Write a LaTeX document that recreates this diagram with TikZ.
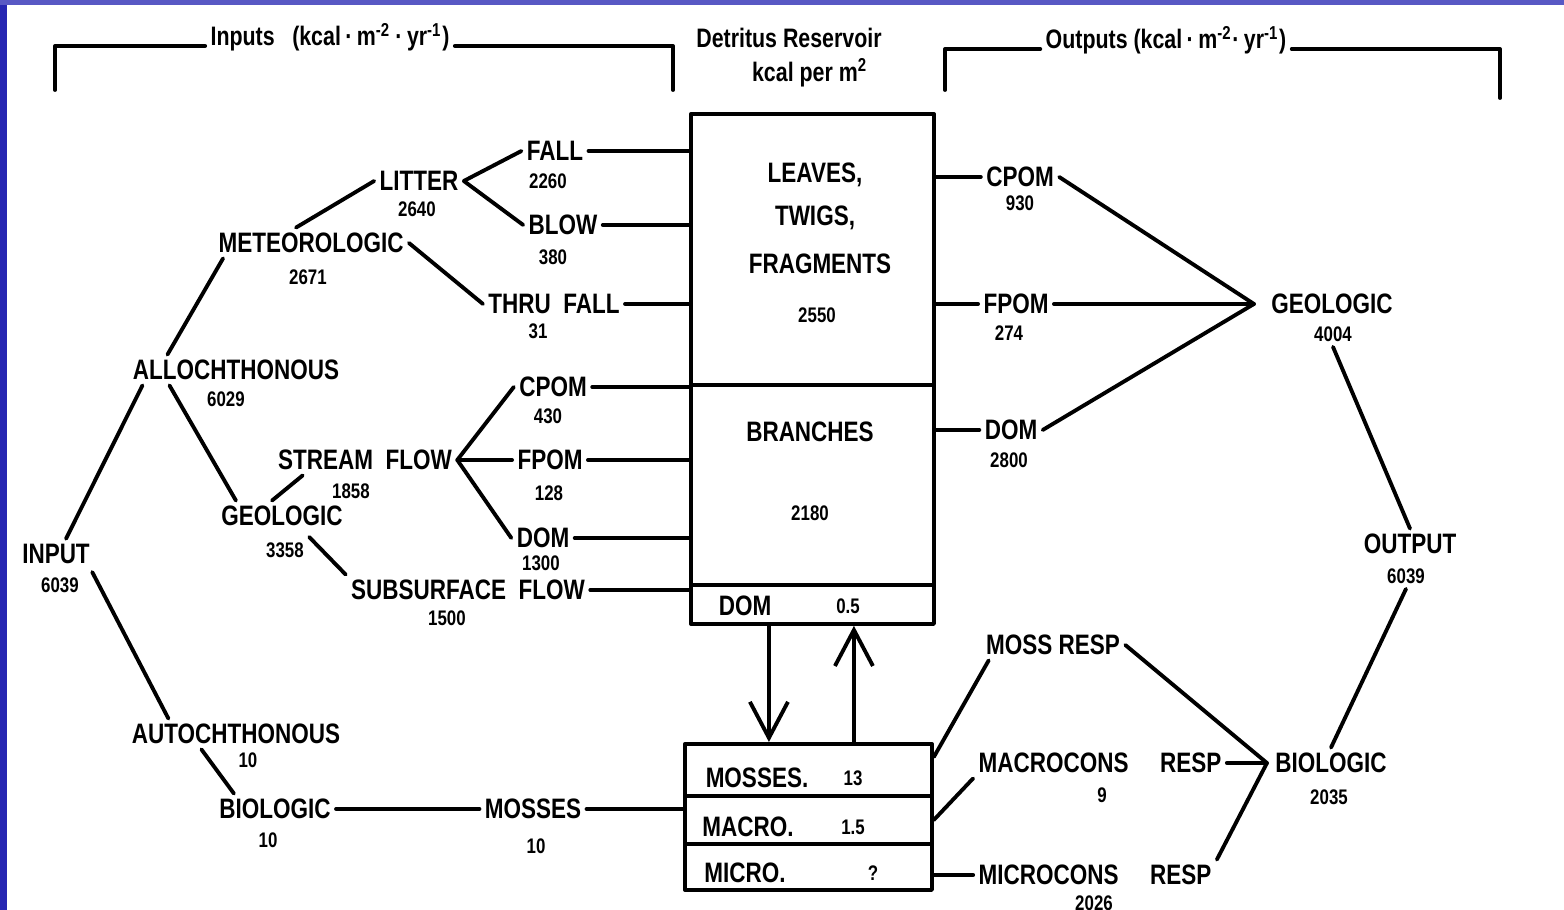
\documentclass[tikz,border=0pt]{standalone}
\usepackage{fontspec}
\setmainfont{Liberation Sans}[FakeStretch=0.8]
\usetikzlibrary{arrows.meta}
\definecolor{slideL}{RGB}{38,38,178}
\definecolor{slideT}{RGB}{88,88,196}
\begin{document}
\begin{tikzpicture}[>={Straight Barb[length=3.6mm,width=3.8mm]},line width=1.1pt,line join=round,line cap=round,
	every node/.style={inner sep=1pt,font=\bfseries},
	lab/.style={font=\fontsize{8}{9}\selectfont\bfseries},
	num/.style={font=\fontsize{6}{7}\selectfont\bfseries},
	head/.style={font=\fontsize{7.6}{9}\selectfont\bfseries,anchor=base},
	box/.style={draw,anchor=north west,inner sep=0pt}]
	\useasboundingbox (0,0) rectangle (15.64,9.10);
	\fill[slideL] (0,0) rectangle (0.07,9.10);
	\fill[slideT] (0,9.05) rectangle (15.64,9.10);
	
	\node[head] (intitle) at (3.30,8.64) {Inputs\hspace{5pt}(kcal\,·\,m\textsuperscript{-2}\,·\,yr\textsuperscript{-1})};
	\node[head] (outtitle) at (11.66,8.61) {Outputs (kcal\,·\,m\textsuperscript{-2}·\,yr\textsuperscript{-1})};
	\node[head,anchor=center] (dettitle) at (7.89,8.72) {Detritus Reservoir};
	\node[head,anchor=center] (detunit) at (8.10,8.37) {kcal per m\textsuperscript{2}};
	\coordinate (inL) at (0.55,8.20);
	\coordinate (inR) at (6.73,8.20);
	\coordinate (outL) at (9.45,8.20);
	\coordinate (outR) at (15.00,8.12);
	\draw (intitle.base west) -| (inL);
	\draw (intitle.base east) -| (inR);
	\draw (outtitle.base west) -| (outL);
	\draw (outtitle.base east) -| (outR);
	
	\node[box,minimum width=2.43cm,minimum height=2.71cm] (leaves) at (6.89,7.98) {};
	\node[box,minimum width=2.43cm,minimum height=2.00cm] (branches) at (6.89,5.27) {};
	\node[box,minimum width=2.43cm,minimum height=0.39cm] (domres) at (6.89,3.27) {};
	\node[box,minimum width=2.47cm,minimum height=0.52cm] (mossbox) at (6.83,1.68) {};
	\node[box,minimum width=2.47cm,minimum height=0.48cm] (macrobox) at (6.83,1.16) {};
	\node[box,minimum width=2.47cm,minimum height=0.46cm] (microbox) at (6.83,0.68) {};
	\node[lab] (tLeaves) at (8.15,7.35) {LEAVES,};
	\node[lab] (tTwigs) at (8.15,6.92) {TWIGS,};
	\node[lab] (tFrag) at (8.20,6.46) {FRAGMENTS};
	\node[num] (nLeaves) at (8.17,5.95) {2550};
	\node[lab] (tBranch) at (8.10,4.78) {BRANCHES};
	\node[num] (nBranch) at (8.10,3.97) {2180};
	\node[lab] (tDom) at (7.45,3.04) {DOM};
	\node[num] (nDom) at (8.48,3.04) {0.5};
	\node[lab] (tMosses) at (7.57,1.32) {MOSSES.};
	\node[num] (nMosses) at (8.53,1.32) {13};
	\node[lab] (tMacro) at (7.48,0.83) {MACRO.};
	\node[num] (nMacro) at (8.53,0.83) {1.5};
	\node[lab] (tMicro) at (7.45,0.37) {MICRO.};
	\node[num] (nMicro) at (8.73,0.37) {?};
	\draw[->] ([xshift=-4.35mm]domres.south) -- ([xshift=-4.35mm]domres.south |- mossbox.north);
	\draw[->] ([xshift=4.15mm]domres.south |- mossbox.north) -- ([xshift=4.15mm]domres.south);
	
	\node[lab] (litter) at (4.19,7.29) {LITTER};
	\node[num] (nLitter) at (4.17,7.01) {2640};
	\node[lab] (fall) at (5.55,7.59) {FALL};
	\node[num] (nFall) at (5.48,7.29) {2260};
	\node[lab] (blow) at (5.63,6.85) {BLOW};
	\node[num] (nBlow) at (5.53,6.53) {380};
	\node[lab] (meteo) at (3.11,6.67) {METEOROLOGIC};
	\node[num] (nMeteo) at (3.08,6.33) {2671};
	\node[lab] (thru) at (5.54,6.06) {THRU\ \ FALL};
	\node[num] (nThru) at (5.38,5.79) {31};
	\node[lab] (alloch) at (2.36,5.40) {ALLOCHTHONOUS};
	\node[num] (nAlloch) at (2.26,5.11) {6029};
	\node[lab] (cpomL) at (5.53,5.23) {CPOM};
	\node[num] (nCpomL) at (5.48,4.94) {430};
	\node[lab] (stream) at (3.65,4.50) {STREAM\ \ FLOW};
	\node[num] (nStream) at (3.51,4.19) {1858};
	\node[lab] (fpomL) at (5.50,4.50) {FPOM};
	\node[num] (nFpomL) at (5.49,4.17) {128};
	\node[lab] (geoL) at (2.82,3.94) {GEOLOGIC};
	\node[num] (nGeoL) at (2.85,3.60) {3358};
	\node[lab] (domL) at (5.43,3.72) {DOM};
	\node[num] (nDomL) at (5.41,3.47) {1300};
	\node[lab] (input) at (0.56,3.56) {INPUT};
	\node[num] (nInput) at (0.60,3.25) {6039};
	\node[lab] (subsurf) at (4.68,3.20) {SUBSURFACE\ \ FLOW};
	\node[num] (nSubsurf) at (4.47,2.92) {1500};
	\node[lab] (autoch) at (2.36,1.76) {AUTOCHTHONOUS};
	\node[num] (nAutoch) at (2.48,1.50) {10};
	\node[lab] (bioL) at (2.75,1.01) {BIOLOGIC};
	\node[num] (nBioL) at (2.68,0.70) {10};
	\node[lab] (mossL) at (5.33,1.01) {MOSSES};
	\node[num] (nMossL) at (5.36,0.64) {10};
	
	\node[lab] (cpomR) at (10.20,7.33) {CPOM};
	\node[num] (nCpomR) at (10.20,7.07) {930};
	\node[lab] (fpomR) at (10.16,6.06) {FPOM};
	\node[num] (nFpomR) at (10.09,5.77) {274};
	\node[lab] (domR) at (10.11,4.80) {DOM};
	\node[num] (nDomR) at (10.09,4.50) {2800};
	\node[lab] (geoR) at (13.32,6.06) {GEOLOGIC};
	\node[num] (nGeoR) at (13.33,5.76) {4004};
	\node[lab] (output) at (14.10,3.66) {OUTPUT};
	\node[num] (nOutput) at (14.06,3.34) {6039};
	\node[lab] (mossresp) at (10.53,2.65) {MOSS RESP};
	\node[lab] (macroresp) at (11.00,1.47) {MACROCONS\hspace{9pt}RESP};
	\node[num] (nMacroresp) at (11.02,1.15) {9};
	\node[lab] (bioR) at (13.31,1.47) {BIOLOGIC};
	\node[num] (nBioR) at (13.29,1.13) {2035};
	\node[lab] (microresp) at (10.95,0.35) {MICROCONS\hspace{9pt}RESP};
	\node[num] (nMicroresp) at (10.94,0.07) {2026};
	
	\coordinate (lv) at (litter.east);
	\coordinate (sv) at (stream.east);
	\coordinate (gv) at ([xshift=-1.2mm]geoR.west);
	\coordinate (bv) at ([xshift=-0.3mm]bioR.west);
	
	\draw ([xshift=-1.5mm]meteo.north) -- (litter.west);
	\draw (lv) -- (fall.west);
	\draw (lv) -- (blow.west);
	\draw (meteo.east) -- (thru.west);
	\draw ([xshift=1mm]meteo.south west) -- ([xshift=4mm]alloch.north west);
	\draw ([xshift=1.5mm]alloch.south west) -- ([xshift=1mm]input.north);
	\draw ([xshift=4.2mm]alloch.south west) -- ([xshift=2mm]geoL.north west);
	\draw ([xshift=-1mm]geoL.north) -- ([xshift=3mm]stream.south west);
	\draw (nGeoL.north east) -- (subsurf.north west);
	\draw (sv) -- (cpomL.west);
	\draw (sv) -- (fpomL.west);
	\draw (sv) -- (domL.west);
	\draw ([xshift=0.8mm]nInput.north east) -- ([xshift=4.2mm]autoch.north west);
	\draw ([xshift=7.5mm]autoch.south west) -- ([xshift=2mm]bioL.north west);
	\draw (bioL.east) -- (mossL.west);
	\draw (mossL.east) -- (mossL.east -| macrobox.west);
	\draw (fall.east) -- (fall.east -| leaves.west);
	\draw (blow.east) -- (blow.east -| leaves.west);
	\draw (thru.east) -- (thru.east -| leaves.west);
	\draw (cpomL.east) -- (cpomL.east -| branches.west);
	\draw (fpomL.east) -- (fpomL.east -| branches.west);
	\draw (domL.east) -- (domL.east -| branches.west);
	\draw (subsurf.east) -- (subsurf.east -| domres.west);
	
	\draw (cpomR.west -| leaves.east) -- (cpomR.west);
	\draw (fpomR.west -| leaves.east) -- (fpomR.west);
	\draw (domR.west -| branches.east) -- (domR.west);
	\draw (cpomR.east) -- (gv);
	\draw (fpomR.east) -- (gv);
	\draw (domR.east) -- (gv);
	\draw (nGeoR.south) -- (output.north);
	\draw (nOutput.south) -- (bioR.north);
	\draw (mossresp.east) -- (bv);
	\draw (macroresp.east) -- (bv);
	\draw (microresp.north east) -- (bv);
	\draw ([xshift=0.8mm]mossresp.south west) -- ([yshift=1.3mm]mossbox.east);
	\draw (macroresp.south west) -- (macrobox.east);
	\draw (microresp.west -| microbox.east) -- (microresp.west);
\end{tikzpicture}
\end{document}
